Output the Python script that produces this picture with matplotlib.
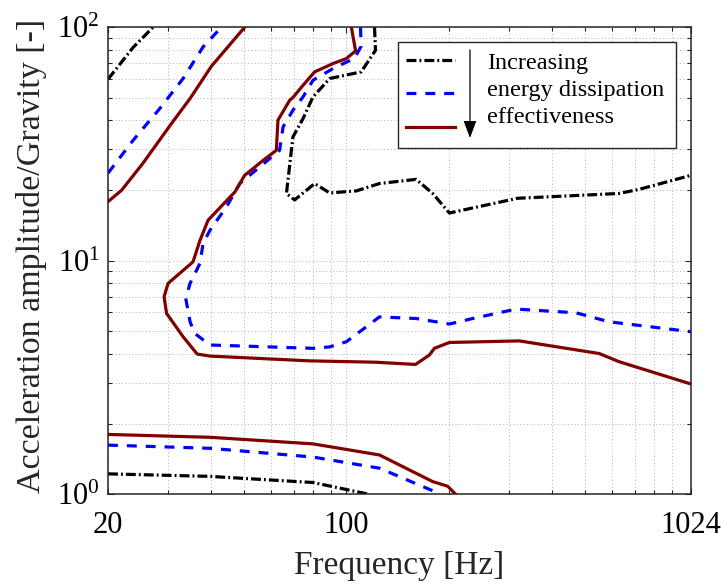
"""
Energy dissipation effectiveness contours over frequency / acceleration
"""

import matplotlib

matplotlib.use("Agg")
import matplotlib.pyplot as plt
from matplotlib.patches import Rectangle
from matplotlib.lines import Line2D
from matplotlib.ticker import FixedLocator, FixedFormatter, LogLocator, NullFormatter

plt.rcParams["font.family"] = ["Liberation Serif", "DejaVu Serif"]
plt.rcParams["mathtext.fontset"] = "custom"
plt.rcParams["mathtext.rm"] = "Liberation Serif"

# black dash-dot contour
blk_corner_f = [20, 23.7, 27.1]
blk_corner_a = [59.9, 82, 100]
blk_mid_f = [120.9, 121.7, 110.5, 89.3, 79.8, 74.6, 69.7, 66.7, 70.5, 80.7,
             89.3, 106.9, 125.0, 160.1, 179.1, 200.4, 317.5, 630, 721, 1024]
blk_mid_a = [100, 79.7, 64.4, 60.3, 50.3, 40.6, 33.9, 19.4, 18.2, 21.4,
             19.5, 19.9, 21.4, 22.3, 19.4, 16.0, 18.5, 19.4, 20.2, 23.2]
blk_low_f = [20, 39.8, 79.8, 115.5]
blk_low_a = [1.22, 1.19, 1.12, 1.0]

# blue dashed contour
blu_corner_f = [20, 23.7, 28.1, 33.2, 38.0, 43.0]
blu_corner_a = [23.7, 32.8, 44.1, 60.3, 82.4, 100]
blu_mid_f = [110.0, 110.4, 105.7, 91.3, 79.8, 74.6, 69.7, 65.2, 63.7, 55.7,
             48.7, 44.5, 39.8, 38.0, 37.2, 34.8, 33.8, 34.8, 35.9, 39.8,
             79.8, 89.3, 99.9, 125.0, 160.1, 200.4, 234.6, 314.2, 470.6, 589, 1024]
blu_mid_a = [100, 82.9, 73.7, 66.5, 59.3, 50.3, 44.1, 37.4, 29.7, 25.2,
             21.4, 17.0, 13.5, 11.85, 9.73, 7.99, 6.89, 5.47, 4.88, 4.35,
             4.21, 4.27, 4.49, 5.74, 5.65, 5.35, 5.65, 6.20, 5.98, 5.47, 4.96]
blu_low_f = [20, 39.8, 79.8, 125.0, 188.6]
blu_low_a = [1.62, 1.57, 1.44, 1.29, 1.0]

# dark red solid contour
red_corner_f = [20, 21.9, 25.3, 30.7, 34.8, 40.2, 50.3]
red_corner_a = [17.9, 20.0, 26.1, 38.7, 49.5, 68.1, 100]
red_mid_f = [103.4, 106.4, 99.9, 91.3, 80.7, 74.6, 69.7, 68.2, 63.0, 62.3,
             57.0, 50.3, 47.1, 39.3, 37.2, 35.5, 30.0, 29.2, 29.7, 33.2,
             36.5, 39.8, 78.0, 122.3, 159.4, 175.1, 181.1, 200.4, 321.2, 550.8, 630, 1024]
red_mid_a = [100, 79.2, 73.4, 69.9, 64.4, 56.4, 50.0, 48.7, 40.0, 29.7,
             26.9, 23.2, 19.7, 14.9, 12.2, 9.88, 7.99, 7.0, 5.94, 4.72,
             3.98, 3.90, 3.72, 3.67, 3.59, 3.94, 4.21, 4.46, 4.53, 4.00, 3.69, 2.96]
red_low_f = [20, 39.8, 79.8, 125.0, 179.1, 198.1, 208.7]
red_low_a = [1.80, 1.75, 1.64, 1.47, 1.13, 1.08, 1.0]

x_ticks = [20, 100, 1024]
x_labels = ["20", "100", "1024"]
legend_lines = ["Increasing", "energy dissipation", "effectiveness"]

AXIS_COLOR = "#262626"
STYLES = {
    "black": dict(color="black", dashes=(3.1, 0.95, 0.6, 0.95)),
    "blue": dict(color="blue", dashes=(3.1, 2.8)),
    "red": dict(color="#800000", linestyle="-"),
}
LW = 2.3


def draw_contours(ax):
    for f, a in [(blk_corner_f, blk_corner_a), (blk_mid_f, blk_mid_a), (blk_low_f, blk_low_a)]:
        ax.plot(f, a, lw=LW, **STYLES["black"])
    for f, a in [(blu_corner_f, blu_corner_a), (blu_mid_f, blu_mid_a), (blu_low_f, blu_low_a)]:
        ax.plot(f, a, lw=LW, **STYLES["blue"])
    for f, a in [(red_corner_f, red_corner_a), (red_mid_f, red_mid_a), (red_low_f, red_low_a)]:
        ax.plot(f, a, lw=LW, **STYLES["red"])


def draw_legend(ax):
    # box drawn by hand so the text block and the arrow can sit like the original
    tr = ax.transAxes
    ax.add_patch(Rectangle((0.498, 0.7407), 0.4758, 0.2284, transform=tr,
                           facecolor="white", edgecolor=AXIS_COLOR, lw=1.0, zorder=5))
    for y, key in zip([0.930, 0.8586, 0.7857], ["black", "blue", "red"]):
        ax.add_line(Line2D([0.5111, 0.5952], [y, y], transform=tr, lw=LW,
                           zorder=6, **STYLES[key]))
    ax.annotate("", xy=(0.6209, 0.7628), xytext=(0.6209, 0.9514),
                xycoords=tr, textcoords=tr, zorder=6,
                arrowprops=dict(arrowstyle="-|>,head_length=0.75,head_width=0.28",
                                mutation_scale=14, color="black", lw=0.9,
                                shrinkA=0, shrinkB=0))
    for y, txt in zip([0.910, 0.852, 0.794], legend_lines):
        ax.text(0.6495, y, txt, transform=tr, fontsize=17.5, va="baseline",
                ha="left", zorder=6)


def main():
    fig = plt.figure(figsize=(7.24, 5.84), dpi=100)
    ax = fig.add_axes([0.1492, 0.1541, 0.8052, 0.7992])

    draw_contours(ax)

    ax.set_xscale("log")
    ax.set_yscale("log")
    ax.set_xlim(20, 1024)
    ax.set_ylim(1, 100)

    ax.xaxis.set_major_locator(FixedLocator(x_ticks))
    ax.xaxis.set_major_formatter(FixedFormatter(x_labels))
    ax.xaxis.set_minor_locator(LogLocator(subs=range(2, 10)))
    ax.xaxis.set_minor_formatter(NullFormatter())
    ax.yaxis.set_minor_locator(LogLocator(subs=range(2, 10)))
    ax.yaxis.set_minor_formatter(NullFormatter())

    ax.grid(True, which="both", linestyle=(0, (1, 2.5)), color="#b0b0b0", lw=0.7)
    ax.set_axisbelow(True)

    ax.tick_params(which="both", direction="in", top=True, right=True,
                   color=AXIS_COLOR, labelsize=22, width=0.8)
    ax.tick_params(which="major", length=4.3)
    ax.tick_params(which="minor", length=2.9)
    ax.tick_params(axis="x", pad=12.5)
    ax.tick_params(axis="y", pad=6)
    for s in ax.spines.values():
        s.set_color(AXIS_COLOR)
        s.set_linewidth(1.1)

    ax.set_xlabel("Frequency [Hz]", fontsize=24, color=AXIS_COLOR)
    ax.set_ylabel("Acceleration amplitude/Gravity [-]", fontsize=24.5, color=AXIS_COLOR)
    ax.xaxis.set_label_coords(0.5, -0.12)
    ax.yaxis.set_label_coords(-0.105, 0.51)

    draw_legend(ax)

    fig.savefig("out.png", dpi=100)


if __name__ == "__main__":
    main()
